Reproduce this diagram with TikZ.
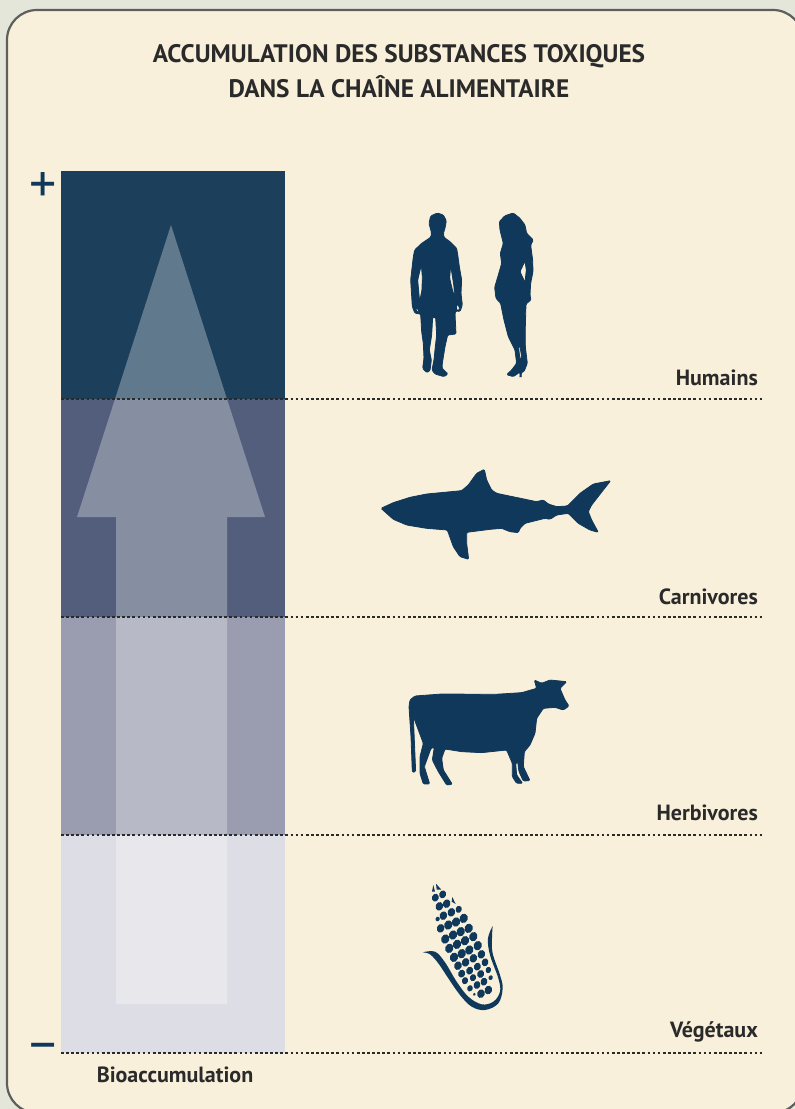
\documentclass[tikz,border=0pt]{standalone}
\usepackage{fontspec}
\setmainfont{PT Sans}
\definecolor{pagebg}{HTML}{E3E6D8}
\definecolor{panelbg}{HTML}{F8F0DA}
\definecolor{panelline}{HTML}{5E5E5E}
\definecolor{inkblue}{HTML}{10385A}
\definecolor{bandA}{HTML}{1C405C}
\definecolor{bandB}{HTML}{525E7B}
\definecolor{bandC}{HTML}{9A9CAF}
\definecolor{bandD}{HTML}{DDDDE5}
\definecolor{labelink}{HTML}{2A2A2A}
\tikzset{
  titlelabel/.style={font=\bfseries\fontsize{25.3}{35}\selectfont, text=labelink, align=center},
  levellabel/.style={font=\bfseries\fontsize{22}{26}\selectfont, text=labelink, anchor=base east, inner sep=0pt},
  signlabel/.style={font=\fontsize{54}{54}\selectfont, text=inkblue, inner sep=0pt},
  levelline/.style={line width=2.6pt, dash pattern=on 2.7pt off 2.4pt, color=labelink},
  silhouette/.style={fill=inkblue, draw=inkblue, line width=0.8pt, even odd rule, rounded corners=1.2pt},
  kernel/.style={fill=inkblue},
  zoomed/.style={x=0.3333pt, y=-0.3333pt}
}
\begin{document}
\begin{tikzpicture}[x=1pt, y=-1pt]
    \useasboundingbox (0,0) rectangle (795,1109);
    % Draw page and panel
    \fill[pagebg] (0,0) rectangle (795,1109);
    \begin{scope}
      \clip (0,0) rectangle (795,1109);
      \draw[panelline, line width=2.2pt, fill=panelbg, rounded corners=30pt] (7,10) rectangle (803,1113);
    \end{scope}

    % Draw bands of the column
    \fill[bandA] (61,171) rectangle (285,399);
    \fill[bandB] (61,399) rectangle (285,617);
    \fill[bandC] (61,617) rectangle (285,835);
    \fill[bandD] (61,835) rectangle (285,1053);

    % Draw big arrow over the bands
    \fill[white, opacity=0.3] (171,225) -- (265,517) -- (227,517) -- (227,1004) -- (116,1004) -- (116,517) -- (77,517) -- cycle;

    % Draw level lines
    \coordinate (lineA) at (61,399);
    \coordinate (lineAend) at (762,399);
    \coordinate (lineB) at (61,617);
    \coordinate (lineBend) at (762,617);
    \coordinate (lineC) at (61,835);
    \coordinate (lineCend) at (762,835);
    \coordinate (lineD) at (61,1053);
    \coordinate (lineDend) at (762,1053);
    \draw[levelline] (lineA) -- (lineAend);
    \draw[levelline] (lineB) -- (lineBend);
    \draw[levelline] (lineC) -- (lineCend);
    \draw[levelline] (lineD) -- (lineDend);

    % Title and labels
    \node[titlelabel] (title) at (399,71) {ACCUMULATION DES SUBSTANCES TOXIQUES\\DANS LA CHAÎNE ALIMENTAIRE};
    \node[levellabel] (humains) at (758,385) {Humains};
    \node[levellabel] (carnivores) at (758,604) {Carnivores};
    \node[levellabel] (herbivores) at (758,820) {Herbivores};
    \node[levellabel] (vegetaux) at (758,1037) {Végétaux};
    \node[levellabel, anchor=base] (bioaccumulation) at (175,1082) {Bioaccumulation};
    \node[signlabel] (plus) at (43,188) {+};
    \node[signlabel] (minus) at (43,1053) {−};

    % Man
    \begin{scope}[shift={(380,200)}, zoomed]
      \fill[silhouette] (172,39) -- (190,45) -- (199,62) -- (195,85) -- (190,100) -- (192,112) -- (210,125) -- (230,145) -- (234,170) -- (238,200) -- (245,240) -- (243,280) -- (247,315) -- (240,335) -- (228,332) -- (225,340) -- (228,402) -- (203,405) -- (195,440) -- (187,490) -- (186,505) -- (204,522) -- (192,530) -- (165,522) -- (156,510) -- (162,480) -- (166,440) -- (170,405) -- (167,352) -- (158,352) -- (155,405) -- (148,450) -- (154,480) -- (150,512) -- (140,518) -- (128,505) -- (132,475) -- (130,430) -- (125,395) -- (122,342) -- (105,340) -- (97,320) -- (92,240) -- (100,170) -- (104,150) -- (125,130) -- (152,112) -- (155,100) -- (147,70) -- (152,48) -- cycle
        (124,195) -- (113,240) -- (119,305) -- (126,270) -- (127,230) -- cycle
        (212,195) -- (209,235) -- (224,298) -- (222,260) -- cycle
        (110,322) -- (119,338) -- (107,332) -- cycle
        (232,312) -- (240,325) -- (234,333) -- (228,325) -- cycle;
    \end{scope}

    % Woman
    \begin{scope}[shift={(380,200)}, zoomed]
      \fill[silhouette] (400,39) -- (420,55) -- (435,75) -- (440,100) -- (460,120) -- (452,135) -- (458,180) -- (459,215) -- (452,250) -- (450,285) -- (453,300) -- (438,312) -- (436,380) -- (436,440) -- (442,490) -- (432,515) -- (424,517) -- (424,530) -- (420,530) -- (420,516) -- (400,530) -- (380,524) -- (395,510) -- (410,490) -- (405,450) -- (385,410) -- (372,360) -- (362,310) -- (348,295) -- (344,262) -- (355,225) -- (365,190) -- (361,160) -- (370,130) -- (360,90) -- (358,65) -- (375,47) -- cycle
        (435,183) -- (420,215) -- (435,247) -- (439,210) -- cycle
        (415,435) -- (420,480) -- (425,470) -- (420,440) -- cycle;
    \end{scope}

    % Shark
    \begin{scope}[shift={(370,460)}, zoomed]
      \fill[silhouette] (33,145) -- (70,128) -- (120,112) -- (170,102) -- (275,92) -- (295,75) -- (320,40) -- (343,28) -- (350,60) -- (365,90) -- (380,100) -- (500,125) -- (520,120) -- (535,132) -- (560,140) -- (592,138) -- (630,100) -- (670,72) -- (722,62) -- (700,90) -- (665,135) -- (655,155) -- (665,180) -- (685,217) -- (660,210) -- (625,190) -- (595,160) -- (560,165) -- (540,178) -- (525,175) -- (465,190) -- (450,205) -- (445,218) -- (420,215) -- (395,205) -- (360,208) -- (290,217) -- (290,250) -- (296,298) -- (270,290) -- (250,260) -- (232,210) -- (170,205) -- (110,195) -- (70,178) -- cycle;
    \end{scope}

    % Cow
    \begin{scope}[shift={(395,670)}, zoomed]
      \fill[silhouette] (45,90) -- (60,78) -- (140,72) -- (300,73) -- (380,68) -- (425,55) -- (418,30) -- (440,40) -- (465,30) -- (515,35) -- (495,55) -- (510,90) -- (522,108) -- (505,120) -- (480,112) -- (445,115) -- (425,145) -- (420,190) -- (405,225) -- (388,245) -- (385,290) -- (405,332) -- (385,333) -- (372,305) -- (368,275) -- (362,280) -- (365,315) -- (383,340) -- (365,340) -- (352,320) -- (352,280) -- (335,240) -- (260,248) -- (200,245) -- (150,237) -- (140,265) -- (145,300) -- (172,343) -- (155,345) -- (130,305) -- (112,270) -- (118,232) -- (108,235) -- (88,290) -- (104,342) -- (85,342) -- (75,310) -- (75,260) -- (85,220) -- (55,140) -- (62,305) -- (52,307) -- (48,200) -- (42,110) -- cycle;
    \end{scope}

    % Corn
    \begin{scope}[shift={(410,875)}, zoomed]
      \fill[inkblue] plot[smooth, tension=0.6] coordinates {(38,232) (75,230) (105,262) (140,320) (175,365) (215,388) (250,380) (270,350) (265,310) (240,240) (234,190) (248,153)} -- plot[smooth, tension=0.6] coordinates {(248,153) (246,190) (248,235) (270,300) (278,340) (265,385) (225,405) (185,395) (150,360) (115,310) (85,265) (60,238) (38,232)};
      \fill[inkblue] (70,30) -- (75,50) -- (66,50) -- cycle;
      \fill[inkblue] (78,26) -- (94,44) -- (80,44) -- cycle;
      \fill[inkblue] (127,66) -- (137,87) -- (125,80) -- cycle;
      \foreach \kx/\ky/\kr in {76/68/10, 98/58/10, 88/94/11, 110/86/11, 100/122/11, 124/112/11, 146/103/9, 83/132/6, 92/160/11, 115/150/12, 138/141/12, 161/130/12, 106/192/12, 129/180/12, 152/170/12, 176/160/12, 118/220/12, 141/208/12, 165/197/12, 190/185/12, 132/247/12, 155/236/12, 178/225/12, 203/212/12, 144/272/11, 167/262/11, 190/250/11, 214/238/11, 155/296/10, 179/287/10, 202/275/10, 225/262/10, 165/317/9, 189/308/9, 212/297/10, 235/285/8, 180/340/8, 201/330/10, 222/320/10, 242/308/6, 193/358/4, 213/356/11, 235/345/11}
        \fill[kernel] (\kx,\ky) circle[x radius=\kr*0.34pt, y radius=\kr*0.4pt, rotate=-20];
    \end{scope}
\end{tikzpicture}
\end{document}
